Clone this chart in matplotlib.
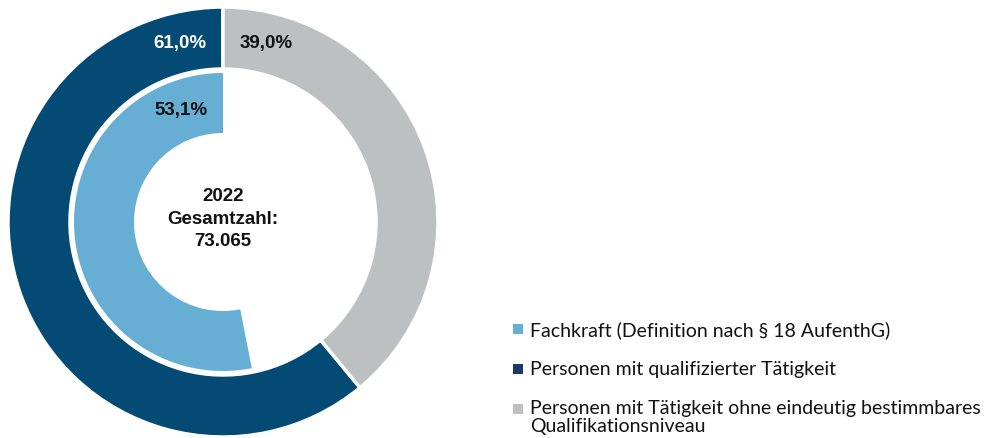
import matplotlib
matplotlib.use("Agg")
import matplotlib.pyplot as plt
from matplotlib.patches import Rectangle

plt.rcParams['font.family'] = ['Lato', 'DejaVu Sans']

# Daten
outer_labels = ["Personen mit qualifizierter Tätigkeit",
                "Personen mit Tätigkeit ohne eindeutig bestimmbares\nQualifikationsniveau"]
outer_values = [61.0, 39.0]
inner_label = "Fachkraft (Definition nach § 18 AufenthG)"
inner_values = [53.1, 46.9]
year = "2022"
total = "73.065"

c_dark = "#034a74"
c_gray = "#bcc0c1"
c_light = "#67aed5"
c_legend_dark = "#1f3a68"

W, H = 989, 439
fig = plt.figure(figsize=(W / 100, H / 100), dpi=100)
ax = fig.add_axes([0, 0, 1, 1])

cx, cy = 223, H - 223

ax.pie(outer_values, radius=215, center=(cx, cy), startangle=90, counterclock=True,
       colors=[c_dark, c_gray],
       wedgeprops=dict(width=62, edgecolor="white", linewidth=2.5))
wedges, _ = ax.pie(inner_values, radius=149, center=(cx, cy), startangle=90, counterclock=True,
                   colors=[c_light, "none"],
                   wedgeprops=dict(width=60, edgecolor="none", linewidth=0))
wedges[1].set_visible(False)

ax.set_xlim(0, W)
ax.set_ylim(0, H)
ax.set_aspect("equal")
ax.axis("off")

# Beschriftungen im Diagramm (fett)
bold = dict(family=["Liberation Sans", "DejaVu Sans"], fontweight="bold", fontsize=13.5,
            ha="center", va="center")
ax.text(180, H - 43, f"{outer_values[0]:.1f}%".replace(".", ","), color="white", **bold)
ax.text(266, H - 43, f"{outer_values[1]:.1f}%".replace(".", ","), color="#111111", **bold)
ax.text(181, H - 111, f"{inner_values[0]:.1f}%".replace(".", ","), color="#111111", **bold)
ax.text(cx, H - 219, f"{year}\nGesamtzahl:\n{total}", color="#111111",
        linespacing=1.45, **bold)

# Legende
legend = [(inner_label, c_light, 330),
          (outer_labels[0], c_legend_dark, 370),
          (outer_labels[1], c_gray, 410)]
for text, col, y in legend:
    ax.add_patch(Rectangle((513, H - y - 5), 10, 10, facecolor=col, edgecolor="none"))
    if "\n" in text:
        ax.text(530, H - y + 10, text, fontsize=14, color="#111111", ha="left", va="top",
                linespacing=1.05)
    else:
        ax.text(530, H - y, text, fontsize=14, color="#111111", ha="left", va="center")

fig.savefig("out.png", dpi=100)
